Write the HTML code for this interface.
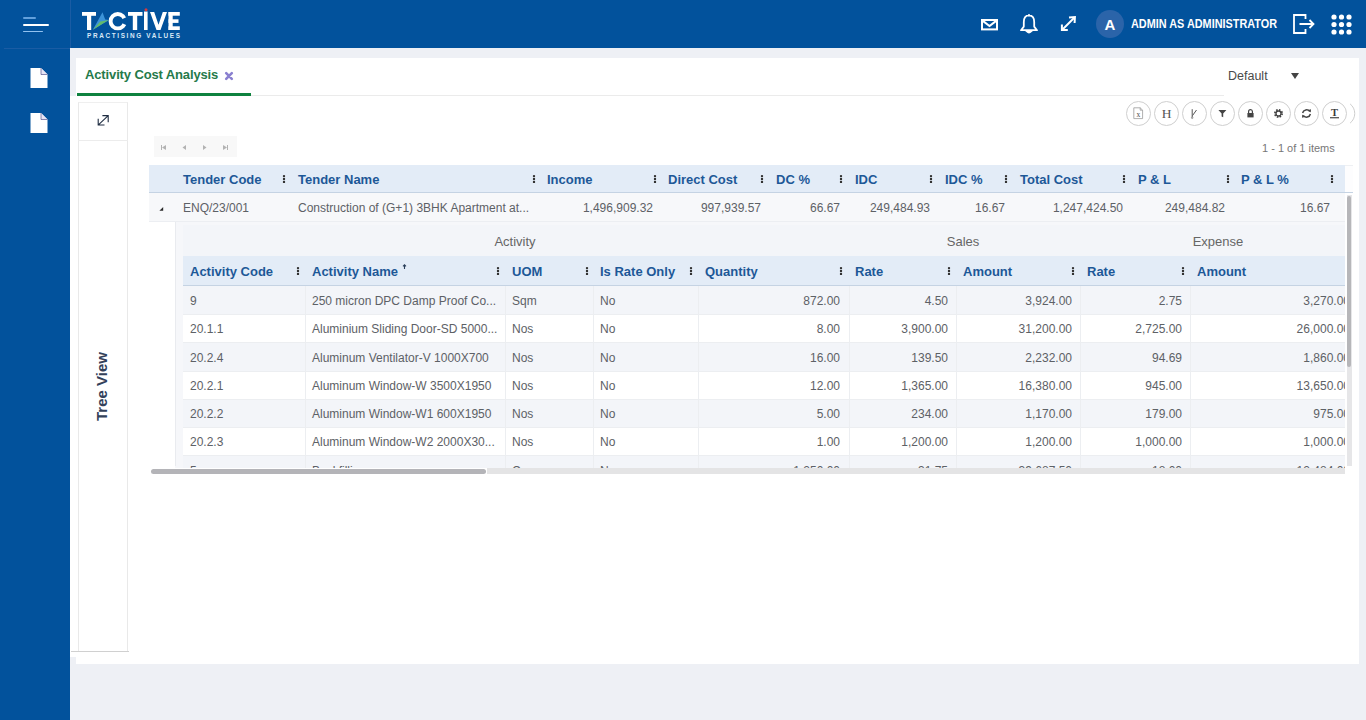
<!DOCTYPE html>
<html><head><meta charset="utf-8"><title>Activity Cost Analysis</title>
<style>
*{margin:0;padding:0;box-sizing:border-box;}
html,body{width:1366px;height:720px;overflow:hidden;background:#eef0f5;font-family:"Liberation Sans",sans-serif;}
.a{position:absolute;}
.hb{font-weight:bold;font-size:13px;color:#1d5897;white-space:nowrap;}
.d{font-size:12px;color:#5d6166;white-space:nowrap;}
.r{text-align:right;}
.keb{position:absolute;width:3px;}
.keb i{display:block;width:2.5px;height:2.5px;border-radius:50%;background:#2a2a2a;margin-bottom:0.4px;}
.circ{position:absolute;width:25px;height:25px;border:1px solid #cfcfcf;border-radius:50%;background:#fff;}
</style></head>
<body>
<div class="a" style="left:0px;top:0px;width:1366px;height:48px;background:#02529c;"></div><div class="a" style="left:0px;top:48px;width:70px;height:672px;background:#02529c;"></div><div class="a" style="left:70px;top:0px;width:1px;height:48px;background:#1a5ca4;"></div><div class="a" style="left:4px;top:48px;width:66px;height:1px;background:#1a5ca4;"></div><div class="a" style="left:23px;top:17px;width:13px;height:1.6px;background:#62a0dc;border-radius:1px;"></div><div class="a" style="left:23px;top:24px;width:26px;height:1.7px;background:#ffffff;border-radius:1px;"></div><div class="a" style="left:23px;top:30.6px;width:20px;height:1.6px;background:#92c2f0;border-radius:1px;"></div><svg class="a" style="left:0px;top:0px;" width="200" height="48" viewBox="0 0 200 48">
<g fill="#fff">
<rect x="82" y="12" width="14" height="3.8"/>
<rect x="87" y="12" width="4.2" height="18"/>
<rect x="128" y="12" width="14.5" height="3.8"/>
<rect x="132.8" y="12" width="4.4" height="18"/>
<rect x="144" y="11.5" width="3.6" height="18.5"/>
<polygon points="150,12 154.2,12 158.5,24.8 162.8,12 167,12 160.5,30 156.5,30"/>
<rect x="168.5" y="12" width="4.2" height="18"/>
<rect x="168.5" y="12" width="11.3" height="3.7"/>
<rect x="168.5" y="19.3" width="10" height="3.6"/>
<rect x="168.5" y="26.3" width="11.3" height="3.7"/>
</g>
<circle cx="117.8" cy="21.2" r="7.2" fill="none" stroke="#fff" stroke-width="3.9"/><polygon points="117.8,21.2 127.8,16.6 127.8,25.8" fill="#02529c"/>
<polygon points="92.9,29.8 102.5,12.2 105.2,19.6 108.8,20" fill="#3c93d8"/>
<polygon points="92.9,29.8 100.2,21.5 108.8,20" fill="#63bb6c"/>
<circle cx="146" cy="9.8" r="1.5" fill="#d63a3e"/>
<text x="87" y="37.6" font-family="Liberation Sans" font-weight="bold" font-size="6.4" fill="#d8e8f7" textLength="93" lengthAdjust="spacing">PRACTISING VALUES</text>
</svg><svg class="a" style="left:980px;top:17px;" width="20" height="15" viewBox="0 0 20 15">
<rect x="2" y="3" width="15" height="9.4" fill="none" stroke="#fff" stroke-width="2"/>
<polyline points="2.5,3.6 9.5,9 16.5,3.6" fill="none" stroke="#fff" stroke-width="2"/>
</svg><svg class="a" style="left:1018px;top:13px;" width="22" height="22" viewBox="0 0 22 22">
<path d="M11 2.4 C7.2 2.4 5.8 5.4 5.8 9 L5.8 13.6 L3 17.2 L19 17.2 L16.2 13.6 L16.2 9 C16.2 5.4 14.8 2.4 11 2.4 Z" fill="none" stroke="#fff" stroke-width="1.8" stroke-linejoin="round"/>
<path d="M8.8 18.6 Q11 20.8 13.2 18.6 Z" fill="#fff" stroke="#fff" stroke-width="1.4"/>
<circle cx="11" cy="2.2" r="1.1" fill="#fff"/>
</svg><svg class="a" style="left:1059px;top:15px;" width="19" height="18" viewBox="0 0 19 18">
<path d="M3.5 14.5 L15.5 2.5" stroke="#fff" stroke-width="2"/>
<path d="M10 2.6 L15.9 2.1 L15.6 8" fill="none" stroke="#fff" stroke-width="2"/>
<path d="M2.9 9.4 L2.9 15.1 L8.8 15.1" fill="none" stroke="#fff" stroke-width="2"/>
</svg><div class="a" style="left:1096px;top:10px;width:28px;height:28px;background:#2b64a9;border-radius:50%;"></div><div class="a " style="left:1096px;top:16px;width:28px;text-align:center;font-weight:bold;font-size:15px;color:#fff;">A</div><div class="a " style="left:1131px;top:17px;font-weight:bold;font-size:12px;color:#fff;transform:scaleX(0.905);transform-origin:0 0;">ADMIN AS ADMINISTRATOR</div><svg class="a" style="left:1292px;top:13px;" width="24" height="22" viewBox="0 0 24 22">
<path d="M13.5 6 L13.5 2 L2 2 L2 20 L13.5 20 L13.5 16" fill="none" stroke="#fff" stroke-width="1.8"/>
<path d="M7.5 11 L21.5 11 M17.5 7 L21.5 11 L17.5 15" fill="none" stroke="#fff" stroke-width="1.8"/>
</svg><svg class="a" style="left:1331px;top:14px;" width="22" height="22" viewBox="0 0 22 22"><circle cx="3.0" cy="3.0" r="2.6" fill="#fff"/><circle cx="3.0" cy="10.5" r="2.6" fill="#fff"/><circle cx="3.0" cy="18.0" r="2.6" fill="#fff"/><circle cx="10.5" cy="3.0" r="2.6" fill="#fff"/><circle cx="10.5" cy="10.5" r="2.6" fill="#fff"/><circle cx="10.5" cy="18.0" r="2.6" fill="#fff"/><circle cx="18.0" cy="3.0" r="2.6" fill="#fff"/><circle cx="18.0" cy="10.5" r="2.6" fill="#fff"/><circle cx="18.0" cy="18.0" r="2.6" fill="#fff"/></svg><svg class="a" style="left:29px;top:67px;" width="20" height="22" viewBox="0 0 20 22">
<path d="M1.5 1 L12 1 L18.5 7.5 L18.5 21 L1.5 21 Z" fill="#fff"/>
<path d="M12 1 L12 7.5 L18.5 7.5" fill="#e6e4f5" stroke="#3b3a7a" stroke-width="0.6"/>
</svg><svg class="a" style="left:29px;top:112px;" width="20" height="22" viewBox="0 0 20 22">
<path d="M1.5 1 L12 1 L18.5 7.5 L18.5 21 L1.5 21 Z" fill="#fff"/>
<path d="M12 1 L12 7.5 L18.5 7.5" fill="#e6e4f5" stroke="#3b3a7a" stroke-width="0.6"/>
</svg><div class="a" style="left:76px;top:58px;width:1283px;height:606px;background:#fff;"></div><div class="a" style="left:70px;top:96px;width:7px;height:561px;background:#fff;"></div><div class="a " style="left:85px;top:67px;font-weight:bold;font-size:13px;color:#257a4a;letter-spacing:-0.13px;">Activity Cost Analysis</div><svg class="a" style="left:224px;top:71px;" width="10" height="10" viewBox="0 0 10 10">
<path d="M2.2 2.2 L7.8 7.8 M7.8 2.2 L2.2 7.8" stroke="#8a80d0" stroke-width="2.6" stroke-linecap="round"/>
</svg><div class="a" style="left:77px;top:95px;width:1147px;height:1px;background:#ebebeb;"></div><div class="a" style="left:77px;top:93px;width:174px;height:3px;background:#0e823f;"></div><div class="a " style="left:1228px;top:69px;font-size:12.5px;color:#4a4a4a;">Default</div><svg class="a" style="left:1290px;top:72px;" width="10" height="8" viewBox="0 0 10 8"><polygon points="1,1 9,1 5,7" fill="#444"/></svg><div class="a" style="left:78px;top:102px;width:50px;height:550px;border:1px solid #e9e9e9;border-top:1px solid #efefef;background:#fff;"></div><div class="a" style="left:71px;top:651px;width:58px;height:1px;background:#d0d0d0;"></div><div class="a" style="left:78px;top:140px;width:50px;height:1px;background:#ececec;"></div><svg class="a" style="left:96px;top:113px;" width="15" height="15" viewBox="0 0 15 15">
<path d="M2.4 11.8 L12.2 2.6 M6.4 2.6 L12.2 2.6 L12.2 9.2 M2.2 5.7 L2.2 12 L8.5 12" fill="none" stroke="#1f2d42" stroke-width="1.1"/>
</svg><div class="a " style="left:61px;top:378px;font-weight:bold;font-size:15px;line-height:17px;color:#33415a;transform:rotate(-90deg);width:80px;text-align:center;transform-origin:center;">Tree View</div><svg class="a" style="left:1348px;top:100px;" width="10" height="28" viewBox="0 0 10 28"><path d="M2.1 3.9 A12.25 12.25 0 0 1 2.1 23.1" fill="none" stroke="#cfcfcf" stroke-width="1"/></svg><div class="circ" style="left:1126.0px;top:101px;"></div><div class="circ" style="left:1154.0px;top:101px;"></div><div class="circ" style="left:1182.0px;top:101px;"></div><div class="circ" style="left:1210.0px;top:101px;"></div><div class="circ" style="left:1238.0px;top:101px;"></div><div class="circ" style="left:1266.0px;top:101px;"></div><div class="circ" style="left:1294.0px;top:101px;"></div><div class="circ" style="left:1322.0px;top:101px;"></div><svg class="a" style="left:1132px;top:107px;" width="13" height="13" viewBox="0 0 13 13">
<path d="M1.8 0.8 L8.2 0.8 L10.6 3.2 L10.6 11.6 L1.8 11.6 Z" fill="#fff" stroke="#9a9a9a" stroke-width="0.8"/>
<path d="M8.2 0.8 L8.2 3.2 L10.6 3.2" fill="none" stroke="#9a9a9a" stroke-width="0.8"/>
<text x="6.3" y="10.3" text-anchor="middle" font-family="Liberation Serif" font-size="7.5" fill="#4a4a4a">x</text>
</svg><svg class="a" style="left:1159px;top:106px;" width="15" height="15" viewBox="0 0 15 15">
<text x="7.5" y="12.2" text-anchor="middle" font-family="Liberation Serif" font-size="13.5" fill="#555">H</text>
</svg><svg class="a" style="left:1188px;top:107px;" width="13" height="13" viewBox="0 0 13 13">
<path d="M4.2 2.2 L4.2 10.3 M4.5 8.6 L8.5 3" fill="none" stroke="#555" stroke-width="1"/>
<circle cx="4.2" cy="10.8" r="0.8" fill="none" stroke="#666" stroke-width="0.6"/>
</svg><svg class="a" style="left:1216px;top:107px;" width="13" height="13" viewBox="0 0 13 13">
<path d="M2.4 3 L10.4 3 L7.2 6.6 L7.2 10.2 L5.6 9.4 L5.6 6.6 Z" fill="#444"/>
</svg><svg class="a" style="left:1244px;top:107px;" width="13" height="13" viewBox="0 0 13 13">
<path d="M4.6 6 L4.6 4.6 A1.9 1.9 0 0 1 8.4 4.6 L8.4 6" fill="none" stroke="#444" stroke-width="1.2"/>
<rect x="3.4" y="6" width="6.2" height="4.4" fill="#444"/>
</svg><svg class="a" style="left:1272px;top:107px;" width="13" height="13" viewBox="0 0 13 13">
<circle cx="6.5" cy="6.5" r="3.5" fill="none" stroke="#444" stroke-width="2" stroke-dasharray="1.5 1.25"/>
<circle cx="6.5" cy="6.5" r="2.5" fill="none" stroke="#444" stroke-width="1.3"/>
</svg><svg class="a" style="left:1300px;top:107px;" width="13" height="13" viewBox="0 0 13 13">
<path d="M2.6 6 A4 4 0 0 1 9.8 4.6 M10.4 7 A4 4 0 0 1 3.2 8.4" fill="none" stroke="#444" stroke-width="1.5"/>
<polygon points="8.4,3 11,2.2 10.8,5.6" fill="#444"/>
<polygon points="4.6,10 2,10.8 2.2,7.4" fill="#444"/>
</svg><svg class="a" style="left:1328px;top:106px;" width="13" height="15" viewBox="0 0 13 15">
<text x="6.5" y="9.8" text-anchor="middle" font-family="Liberation Serif" font-weight="bold" font-size="10.5" fill="#3a3a3a">T</text>
<rect x="2" y="11.2" width="9" height="1.1" fill="#3a3a3a"/>
</svg><div class="a" style="left:154px;top:136px;width:83px;height:21px;background:#f8f8f8;"></div><svg class="a" style="left:158px;top:143px;" width="75" height="9" viewBox="0 0 75 9">
<g fill="#b3b3b3">
<rect x="3" y="2" width="1" height="5"/><polygon points="8,2 8,7 4,4.5"/>
<polygon points="28,2 28,7 24.5,4.5"/>
<polygon points="45,2 45,7 48.5,4.5"/>
<polygon points="65,2 65,7 69,4.5"/><rect x="69" y="2" width="1" height="5"/>
</g></svg><div class="a " style="left:1262px;top:142px;font-size:11px;color:#777;">1 - 1 of 1 items</div><div class="a" style="left:149px;top:165px;width:1196px;height:28px;background:#e3ecf7;border-bottom:1px solid #c5d3e3;"></div><div class="a" style="left:1345px;top:165px;width:8px;height:28px;background:#fdfdfe;border-top:1px solid #eef0f3;border-bottom:1px solid #c5d3e3;"></div><div class="a" style="left:149px;top:193px;width:1196px;height:29px;background:#f7f8fa;border-bottom:1px solid #eceef2;"></div><div class="a hb" style="left:183px;top:172px;">Tender Code</div><svg class="a" style="left:282px;top:174px;" width="4" height="10" viewBox="0 0 4 10"><g fill="#2f2f2f"><circle cx="2" cy="2.1" r="1.2"/><circle cx="2" cy="5" r="1.2"/><circle cx="2" cy="7.9" r="1.2"/></g></svg><div class="a hb" style="left:298px;top:172px;">Tender Name</div><svg class="a" style="left:532px;top:174px;" width="4" height="10" viewBox="0 0 4 10"><g fill="#2f2f2f"><circle cx="2" cy="2.1" r="1.2"/><circle cx="2" cy="5" r="1.2"/><circle cx="2" cy="7.9" r="1.2"/></g></svg><div class="a hb" style="left:547px;top:172px;">Income</div><svg class="a" style="left:653px;top:174px;" width="4" height="10" viewBox="0 0 4 10"><g fill="#2f2f2f"><circle cx="2" cy="2.1" r="1.2"/><circle cx="2" cy="5" r="1.2"/><circle cx="2" cy="7.9" r="1.2"/></g></svg><div class="a hb" style="left:668px;top:172px;">Direct Cost</div><svg class="a" style="left:760px;top:174px;" width="4" height="10" viewBox="0 0 4 10"><g fill="#2f2f2f"><circle cx="2" cy="2.1" r="1.2"/><circle cx="2" cy="5" r="1.2"/><circle cx="2" cy="7.9" r="1.2"/></g></svg><div class="a hb" style="left:776px;top:172px;">DC %</div><svg class="a" style="left:839px;top:174px;" width="4" height="10" viewBox="0 0 4 10"><g fill="#2f2f2f"><circle cx="2" cy="2.1" r="1.2"/><circle cx="2" cy="5" r="1.2"/><circle cx="2" cy="7.9" r="1.2"/></g></svg><div class="a hb" style="left:855px;top:172px;">IDC</div><svg class="a" style="left:929px;top:174px;" width="4" height="10" viewBox="0 0 4 10"><g fill="#2f2f2f"><circle cx="2" cy="2.1" r="1.2"/><circle cx="2" cy="5" r="1.2"/><circle cx="2" cy="7.9" r="1.2"/></g></svg><div class="a hb" style="left:945px;top:172px;">IDC %</div><svg class="a" style="left:1004px;top:174px;" width="4" height="10" viewBox="0 0 4 10"><g fill="#2f2f2f"><circle cx="2" cy="2.1" r="1.2"/><circle cx="2" cy="5" r="1.2"/><circle cx="2" cy="7.9" r="1.2"/></g></svg><div class="a hb" style="left:1020px;top:172px;">Total Cost</div><svg class="a" style="left:1122px;top:174px;" width="4" height="10" viewBox="0 0 4 10"><g fill="#2f2f2f"><circle cx="2" cy="2.1" r="1.2"/><circle cx="2" cy="5" r="1.2"/><circle cx="2" cy="7.9" r="1.2"/></g></svg><div class="a hb" style="left:1138px;top:172px;">P &amp; L</div><svg class="a" style="left:1226px;top:174px;" width="4" height="10" viewBox="0 0 4 10"><g fill="#2f2f2f"><circle cx="2" cy="2.1" r="1.2"/><circle cx="2" cy="5" r="1.2"/><circle cx="2" cy="7.9" r="1.2"/></g></svg><div class="a hb" style="left:1241px;top:172px;">P &amp; L %</div><svg class="a" style="left:1330px;top:174px;" width="4" height="10" viewBox="0 0 4 10"><g fill="#2f2f2f"><circle cx="2" cy="2.1" r="1.2"/><circle cx="2" cy="5" r="1.2"/><circle cx="2" cy="7.9" r="1.2"/></g></svg><svg class="a" style="left:157px;top:204px;" width="8" height="8" viewBox="0 0 8 8"><polygon points="2.4,6.8 6.2,6.8 6.2,3" fill="#2a2a2a"/></svg><div class="a d" style="left:183px;top:201px;">ENQ/23/001</div><div class="a d" style="left:298px;top:201px;">Construction of (G+1) 3BHK Apartment at...</div><div class="a d r" style="left:453px;top:201px;width:200px;">1,496,909.32</div><div class="a d r" style="left:561px;top:201px;width:200px;">997,939.57</div><div class="a d r" style="left:640px;top:201px;width:200px;">66.67</div><div class="a d r" style="left:730px;top:201px;width:200px;">249,484.93</div><div class="a d r" style="left:805px;top:201px;width:200px;">16.67</div><div class="a d r" style="left:923px;top:201px;width:200px;">1,247,424.50</div><div class="a d r" style="left:1025px;top:201px;width:200px;">249,484.82</div><div class="a d r" style="left:1130px;top:201px;width:200px;">16.67</div><div class="a" style="left:175px;top:222px;width:1170px;height:244px;background:#f6f7fa;border-left:1px solid #e9ebef;"></div><div class="a" style="left:183px;top:225px;width:1162px;height:31px;background:#f3f5f9;"></div><div class="a d" style="left:455px;top:234px;width:120px;text-align:center;font-size:13px;color:#666;">Activity</div><div class="a d" style="left:903px;top:234px;width:120px;text-align:center;font-size:13px;color:#666;">Sales</div><div class="a d" style="left:1158px;top:234px;width:120px;text-align:center;font-size:13px;color:#666;">Expense</div><div class="a" style="left:183px;top:256px;width:1162px;height:30px;background:#e3ecf7;border-bottom:1px solid #c5d3e3;"></div><div class="a hb" style="left:190px;top:264px;">Activity Code</div><svg class="a" style="left:296px;top:266px;" width="4" height="10" viewBox="0 0 4 10"><g fill="#2f2f2f"><circle cx="2" cy="2.1" r="1.2"/><circle cx="2" cy="5" r="1.2"/><circle cx="2" cy="7.9" r="1.2"/></g></svg><div class="a hb" style="left:312px;top:264px;">Activity Name</div><svg class="a" style="left:496px;top:266px;" width="4" height="10" viewBox="0 0 4 10"><g fill="#2f2f2f"><circle cx="2" cy="2.1" r="1.2"/><circle cx="2" cy="5" r="1.2"/><circle cx="2" cy="7.9" r="1.2"/></g></svg><div class="a hb" style="left:512px;top:264px;">UOM</div><svg class="a" style="left:585px;top:266px;" width="4" height="10" viewBox="0 0 4 10"><g fill="#2f2f2f"><circle cx="2" cy="2.1" r="1.2"/><circle cx="2" cy="5" r="1.2"/><circle cx="2" cy="7.9" r="1.2"/></g></svg><div class="a hb" style="left:600px;top:264px;">Is Rate Only</div><svg class="a" style="left:689px;top:266px;" width="4" height="10" viewBox="0 0 4 10"><g fill="#2f2f2f"><circle cx="2" cy="2.1" r="1.2"/><circle cx="2" cy="5" r="1.2"/><circle cx="2" cy="7.9" r="1.2"/></g></svg><div class="a hb" style="left:705px;top:264px;">Quantity</div><svg class="a" style="left:839px;top:266px;" width="4" height="10" viewBox="0 0 4 10"><g fill="#2f2f2f"><circle cx="2" cy="2.1" r="1.2"/><circle cx="2" cy="5" r="1.2"/><circle cx="2" cy="7.9" r="1.2"/></g></svg><div class="a hb" style="left:855px;top:264px;">Rate</div><svg class="a" style="left:947px;top:266px;" width="4" height="10" viewBox="0 0 4 10"><g fill="#2f2f2f"><circle cx="2" cy="2.1" r="1.2"/><circle cx="2" cy="5" r="1.2"/><circle cx="2" cy="7.9" r="1.2"/></g></svg><div class="a hb" style="left:963px;top:264px;">Amount</div><svg class="a" style="left:1071px;top:266px;" width="4" height="10" viewBox="0 0 4 10"><g fill="#2f2f2f"><circle cx="2" cy="2.1" r="1.2"/><circle cx="2" cy="5" r="1.2"/><circle cx="2" cy="7.9" r="1.2"/></g></svg><div class="a hb" style="left:1087px;top:264px;">Rate</div><svg class="a" style="left:1181px;top:266px;" width="4" height="10" viewBox="0 0 4 10"><g fill="#2f2f2f"><circle cx="2" cy="2.1" r="1.2"/><circle cx="2" cy="5" r="1.2"/><circle cx="2" cy="7.9" r="1.2"/></g></svg><div class="a hb" style="left:1197px;top:264px;">Amount</div><svg class="a" style="left:402px;top:264px;" width="5" height="6" viewBox="0 0 5 6"><path d="M2.5 0.8 L2.5 5 M1 2.4 L2.5 0.8 L4 2.4" fill="none" stroke="#2a3f5a" stroke-width="1.1"/></svg><div class="a" style="left:183px;top:286px;width:1162px;height:182px;overflow:hidden;"><div class="a" style="left:0;top:0px;width:1162px;height:29px;background:#f3f5f9;border-bottom:1px solid #eceef1;"></div><div class="a" style="left:122px;top:0px;width:1px;height:29px;background:#eceef1;"></div><div class="a" style="left:322px;top:0px;width:1px;height:29px;background:#eceef1;"></div><div class="a" style="left:410px;top:0px;width:1px;height:29px;background:#eceef1;"></div><div class="a" style="left:515px;top:0px;width:1px;height:29px;background:#eceef1;"></div><div class="a" style="left:666px;top:0px;width:1px;height:29px;background:#eceef1;"></div><div class="a" style="left:773px;top:0px;width:1px;height:29px;background:#eceef1;"></div><div class="a" style="left:897px;top:0px;width:1px;height:29px;background:#eceef1;"></div><div class="a" style="left:1007px;top:0px;width:1px;height:29px;background:#eceef1;"></div><div class="a d" style="left:7px;top:8px;">9</div><div class="a d" style="left:129px;top:8px;">250 micron DPC Damp Proof Co...</div><div class="a d" style="left:329px;top:8px;">Sqm</div><div class="a d" style="left:417px;top:8px;">No</div><div class="a d r" style="left:457px;top:8px;width:200px;">872.00</div><div class="a d r" style="left:565px;top:8px;width:200px;">4.50</div><div class="a d r" style="left:689px;top:8px;width:200px;">3,924.00</div><div class="a d r" style="left:799px;top:8px;width:200px;">2.75</div><div class="a d r" style="left:967px;top:8px;width:200px;">3,270.00</div><div class="a" style="left:0;top:29px;width:1162px;height:28px;background:#ffffff;border-bottom:1px solid #eceef1;"></div><div class="a" style="left:122px;top:29px;width:1px;height:28px;background:#eceef1;"></div><div class="a" style="left:322px;top:29px;width:1px;height:28px;background:#eceef1;"></div><div class="a" style="left:410px;top:29px;width:1px;height:28px;background:#eceef1;"></div><div class="a" style="left:515px;top:29px;width:1px;height:28px;background:#eceef1;"></div><div class="a" style="left:666px;top:29px;width:1px;height:28px;background:#eceef1;"></div><div class="a" style="left:773px;top:29px;width:1px;height:28px;background:#eceef1;"></div><div class="a" style="left:897px;top:29px;width:1px;height:28px;background:#eceef1;"></div><div class="a" style="left:1007px;top:29px;width:1px;height:28px;background:#eceef1;"></div><div class="a d" style="left:7px;top:36px;">20.1.1</div><div class="a d" style="left:129px;top:36px;">Aluminium Sliding Door-SD 5000...</div><div class="a d" style="left:329px;top:36px;">Nos</div><div class="a d" style="left:417px;top:36px;">No</div><div class="a d r" style="left:457px;top:36px;width:200px;">8.00</div><div class="a d r" style="left:565px;top:36px;width:200px;">3,900.00</div><div class="a d r" style="left:689px;top:36px;width:200px;">31,200.00</div><div class="a d r" style="left:799px;top:36px;width:200px;">2,725.00</div><div class="a d r" style="left:967px;top:36px;width:200px;">26,000.00</div><div class="a" style="left:0;top:57px;width:1162px;height:29px;background:#f3f5f9;border-bottom:1px solid #eceef1;"></div><div class="a" style="left:122px;top:57px;width:1px;height:29px;background:#eceef1;"></div><div class="a" style="left:322px;top:57px;width:1px;height:29px;background:#eceef1;"></div><div class="a" style="left:410px;top:57px;width:1px;height:29px;background:#eceef1;"></div><div class="a" style="left:515px;top:57px;width:1px;height:29px;background:#eceef1;"></div><div class="a" style="left:666px;top:57px;width:1px;height:29px;background:#eceef1;"></div><div class="a" style="left:773px;top:57px;width:1px;height:29px;background:#eceef1;"></div><div class="a" style="left:897px;top:57px;width:1px;height:29px;background:#eceef1;"></div><div class="a" style="left:1007px;top:57px;width:1px;height:29px;background:#eceef1;"></div><div class="a d" style="left:7px;top:65px;">20.2.4</div><div class="a d" style="left:129px;top:65px;">Aluminum Ventilator-V 1000X700</div><div class="a d" style="left:329px;top:65px;">Nos</div><div class="a d" style="left:417px;top:65px;">No</div><div class="a d r" style="left:457px;top:65px;width:200px;">16.00</div><div class="a d r" style="left:565px;top:65px;width:200px;">139.50</div><div class="a d r" style="left:689px;top:65px;width:200px;">2,232.00</div><div class="a d r" style="left:799px;top:65px;width:200px;">94.69</div><div class="a d r" style="left:967px;top:65px;width:200px;">1,860.00</div><div class="a" style="left:0;top:86px;width:1162px;height:28px;background:#ffffff;border-bottom:1px solid #eceef1;"></div><div class="a" style="left:122px;top:86px;width:1px;height:28px;background:#eceef1;"></div><div class="a" style="left:322px;top:86px;width:1px;height:28px;background:#eceef1;"></div><div class="a" style="left:410px;top:86px;width:1px;height:28px;background:#eceef1;"></div><div class="a" style="left:515px;top:86px;width:1px;height:28px;background:#eceef1;"></div><div class="a" style="left:666px;top:86px;width:1px;height:28px;background:#eceef1;"></div><div class="a" style="left:773px;top:86px;width:1px;height:28px;background:#eceef1;"></div><div class="a" style="left:897px;top:86px;width:1px;height:28px;background:#eceef1;"></div><div class="a" style="left:1007px;top:86px;width:1px;height:28px;background:#eceef1;"></div><div class="a d" style="left:7px;top:93px;">20.2.1</div><div class="a d" style="left:129px;top:93px;">Aluminum Window-W 3500X1950</div><div class="a d" style="left:329px;top:93px;">Nos</div><div class="a d" style="left:417px;top:93px;">No</div><div class="a d r" style="left:457px;top:93px;width:200px;">12.00</div><div class="a d r" style="left:565px;top:93px;width:200px;">1,365.00</div><div class="a d r" style="left:689px;top:93px;width:200px;">16,380.00</div><div class="a d r" style="left:799px;top:93px;width:200px;">945.00</div><div class="a d r" style="left:967px;top:93px;width:200px;">13,650.00</div><div class="a" style="left:0;top:114px;width:1162px;height:28px;background:#f3f5f9;border-bottom:1px solid #eceef1;"></div><div class="a" style="left:122px;top:114px;width:1px;height:28px;background:#eceef1;"></div><div class="a" style="left:322px;top:114px;width:1px;height:28px;background:#eceef1;"></div><div class="a" style="left:410px;top:114px;width:1px;height:28px;background:#eceef1;"></div><div class="a" style="left:515px;top:114px;width:1px;height:28px;background:#eceef1;"></div><div class="a" style="left:666px;top:114px;width:1px;height:28px;background:#eceef1;"></div><div class="a" style="left:773px;top:114px;width:1px;height:28px;background:#eceef1;"></div><div class="a" style="left:897px;top:114px;width:1px;height:28px;background:#eceef1;"></div><div class="a" style="left:1007px;top:114px;width:1px;height:28px;background:#eceef1;"></div><div class="a d" style="left:7px;top:121px;">20.2.2</div><div class="a d" style="left:129px;top:121px;">Aluminum Window-W1 600X1950</div><div class="a d" style="left:329px;top:121px;">Nos</div><div class="a d" style="left:417px;top:121px;">No</div><div class="a d r" style="left:457px;top:121px;width:200px;">5.00</div><div class="a d r" style="left:565px;top:121px;width:200px;">234.00</div><div class="a d r" style="left:689px;top:121px;width:200px;">1,170.00</div><div class="a d r" style="left:799px;top:121px;width:200px;">179.00</div><div class="a d r" style="left:967px;top:121px;width:200px;">975.00</div><div class="a" style="left:0;top:142px;width:1162px;height:28px;background:#ffffff;border-bottom:1px solid #eceef1;"></div><div class="a" style="left:122px;top:142px;width:1px;height:28px;background:#eceef1;"></div><div class="a" style="left:322px;top:142px;width:1px;height:28px;background:#eceef1;"></div><div class="a" style="left:410px;top:142px;width:1px;height:28px;background:#eceef1;"></div><div class="a" style="left:515px;top:142px;width:1px;height:28px;background:#eceef1;"></div><div class="a" style="left:666px;top:142px;width:1px;height:28px;background:#eceef1;"></div><div class="a" style="left:773px;top:142px;width:1px;height:28px;background:#eceef1;"></div><div class="a" style="left:897px;top:142px;width:1px;height:28px;background:#eceef1;"></div><div class="a" style="left:1007px;top:142px;width:1px;height:28px;background:#eceef1;"></div><div class="a d" style="left:7px;top:149px;">20.2.3</div><div class="a d" style="left:129px;top:149px;">Aluminum Window-W2 2000X30...</div><div class="a d" style="left:329px;top:149px;">Nos</div><div class="a d" style="left:417px;top:149px;">No</div><div class="a d r" style="left:457px;top:149px;width:200px;">1.00</div><div class="a d r" style="left:565px;top:149px;width:200px;">1,200.00</div><div class="a d r" style="left:689px;top:149px;width:200px;">1,200.00</div><div class="a d r" style="left:799px;top:149px;width:200px;">1,000.00</div><div class="a d r" style="left:967px;top:149px;width:200px;">1,000.00</div><div class="a" style="left:0;top:170px;width:1162px;height:29px;background:#f3f5f9;border-bottom:1px solid #eceef1;"></div><div class="a" style="left:122px;top:170px;width:1px;height:29px;background:#eceef1;"></div><div class="a" style="left:322px;top:170px;width:1px;height:29px;background:#eceef1;"></div><div class="a" style="left:410px;top:170px;width:1px;height:29px;background:#eceef1;"></div><div class="a" style="left:515px;top:170px;width:1px;height:29px;background:#eceef1;"></div><div class="a" style="left:666px;top:170px;width:1px;height:29px;background:#eceef1;"></div><div class="a" style="left:773px;top:170px;width:1px;height:29px;background:#eceef1;"></div><div class="a" style="left:897px;top:170px;width:1px;height:29px;background:#eceef1;"></div><div class="a" style="left:1007px;top:170px;width:1px;height:29px;background:#eceef1;"></div><div class="a d" style="left:7px;top:178px;">5</div><div class="a d" style="left:129px;top:178px;">Backfilling</div><div class="a d" style="left:329px;top:178px;">Cum</div><div class="a d" style="left:417px;top:178px;">No</div><div class="a d r" style="left:457px;top:178px;width:200px;">1,250.00</div><div class="a d r" style="left:565px;top:178px;width:200px;">31.75</div><div class="a d r" style="left:689px;top:178px;width:200px;">39,687.50</div><div class="a d r" style="left:799px;top:178px;width:200px;">18.00</div><div class="a d r" style="left:967px;top:178px;width:200px;">12,484.00</div></div><div class="a" style="left:175px;top:466px;width:8px;height:2px;background:#f6f7fa;"></div><div class="a" style="left:148px;top:467.5px;width:1197px;height:9px;background:#fff;border-radius:0 0 0 6px;"></div><div class="a" style="left:487px;top:468px;width:858px;height:6px;background:#e4e4e5;"></div><div class="a" style="left:151px;top:469px;width:335px;height:4.5px;background:#b4b4b8;border-radius:3px;"></div><div class="a" style="left:1346.5px;top:195px;width:5px;height:271px;background:#e6e6e8;"></div><div class="a" style="left:1347.3px;top:195.5px;width:3.6px;height:171px;background:#b6b6b9;border-radius:2px;"></div>
</body></html>
